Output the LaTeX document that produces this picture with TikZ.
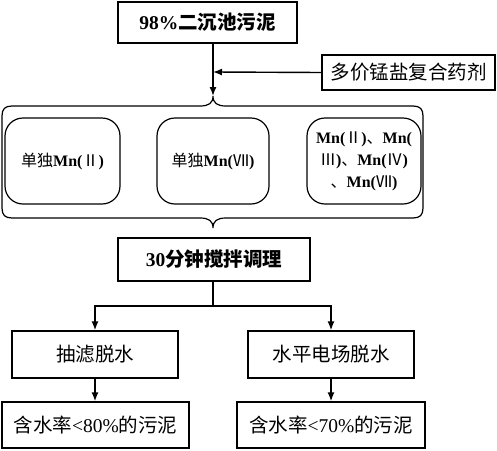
\documentclass[tikz,border=0pt]{standalone}
\usepackage{fontspec}
\setmainfont{Liberation Serif}
\newfontfamily\cjk{Noto Sans CJK SC}
\newcommand{\zh}[1]{{\cjk #1}}
\usetikzlibrary{arrows.meta}
\begin{document}
\begin{tikzpicture}[x=1pt,y=-1pt,
  box/.style={draw,line width=1.4pt,inner sep=0pt,align=center,font=\fontsize{19.5}{22}\selectfont},
  rbox/.style={draw,line width=1.2pt,rounded corners=18pt,inner sep=0pt,align=center,font=\fontsize{16}{22}\selectfont},
  conn/.style={line width=1.4pt},
  arr/.style={line width=1.4pt,-{Latex[length=9pt,width=7pt]}},
  bracestyle/.style={line width=1.2pt}]
\useasboundingbox (0,0) rectangle (497,450);
% top boxes
\node[box,minimum width=179pt,minimum height=41pt,font=\fontsize{19.5}{22}\selectfont\bfseries] (src) at (207.5,22.5) {98\%\zh{二沉池污泥}};
\node[box,minimum width=173pt,minimum height=35pt] (agent) at (408.5,72.5) {\zh{多价锰盐复合药剂}};
% brace tips
\coordinate (tipT) at (213,96);
\coordinate (tipB) at (213,228);
\coordinate (join) at (213,72);
\draw[arr] (src.south -| tipT) -- (tipT);
\draw[arr] (agent.west) -- (join);
% brace frame
\draw[bracestyle] (tipT) .. controls (213,103) and (217,106) .. (226,106) -- (413,106)
  .. controls (420,106) and (423,109) .. (423,116) -- (423,208)
  .. controls (423,215) and (420,218) .. (413,218) -- (226,218)
  .. controls (217,218) and (213,221) .. (tipB)
  .. controls (213,221) and (209,218) .. (200,218) -- (12,218)
  .. controls (5,218) and (2,215) .. (2,208) -- (2,116)
  .. controls (2,109) and (5,106) .. (12,106) -- (200,106)
  .. controls (209,106) and (213,103) .. (tipT);
% rounded option boxes
\node[rbox,minimum width=115pt,minimum height=86pt] (o1) at (62.5,161) {\zh{单独}\textbf{Mn(}\zh{Ⅱ}\textbf{)}};
\node[rbox,minimum width=112pt,minimum height=86pt] (o2) at (213,161) {\zh{单独}\textbf{Mn(}\zh{Ⅶ}\textbf{)}};
\node[rbox,minimum width=114pt,minimum height=86pt] (o3) at (364,161) {\textbf{Mn(}\zh{Ⅱ}\textbf{)}\zh{、}\textbf{Mn(}\\\zh{Ⅲ}\textbf{)}\zh{、}\textbf{Mn(}\zh{Ⅳ}\textbf{)}\\\zh{、}\textbf{Mn(}\zh{Ⅶ}\textbf{)}};
% stirring box
\node[box,minimum width=192pt,minimum height=43pt,font=\fontsize{19.5}{22}\selectfont\bfseries] (stir) at (214,259.5) {30\zh{分钟搅拌调理}};
\coordinate (split) at (213,306);
\node[box,minimum width=166pt,minimum height=47pt] (d1) at (95,354.5) {\zh{抽滤脱水}};
\node[box,minimum width=166pt,minimum height=47pt] (d2) at (331,354.5) {\zh{水平电场脱水}};
\node[box,minimum width=187pt,minimum height=46pt] (r1) at (95.5,425) {\zh{含水率}<80\%\zh{的污泥}};
\node[box,minimum width=188pt,minimum height=46pt] (r2) at (331,425) {\zh{含水率}<70\%\zh{的污泥}};
\draw[conn] (tipB |- stir.south) -- (split);
\draw[arr] (split) -| (d1.north);
\draw[arr] (split) -| (d2.north);
\draw[arr] (d1) -- (r1.north -| d1);
\draw[arr] (d2) -- (r2.north -| d2);
\end{tikzpicture}
\end{document}
